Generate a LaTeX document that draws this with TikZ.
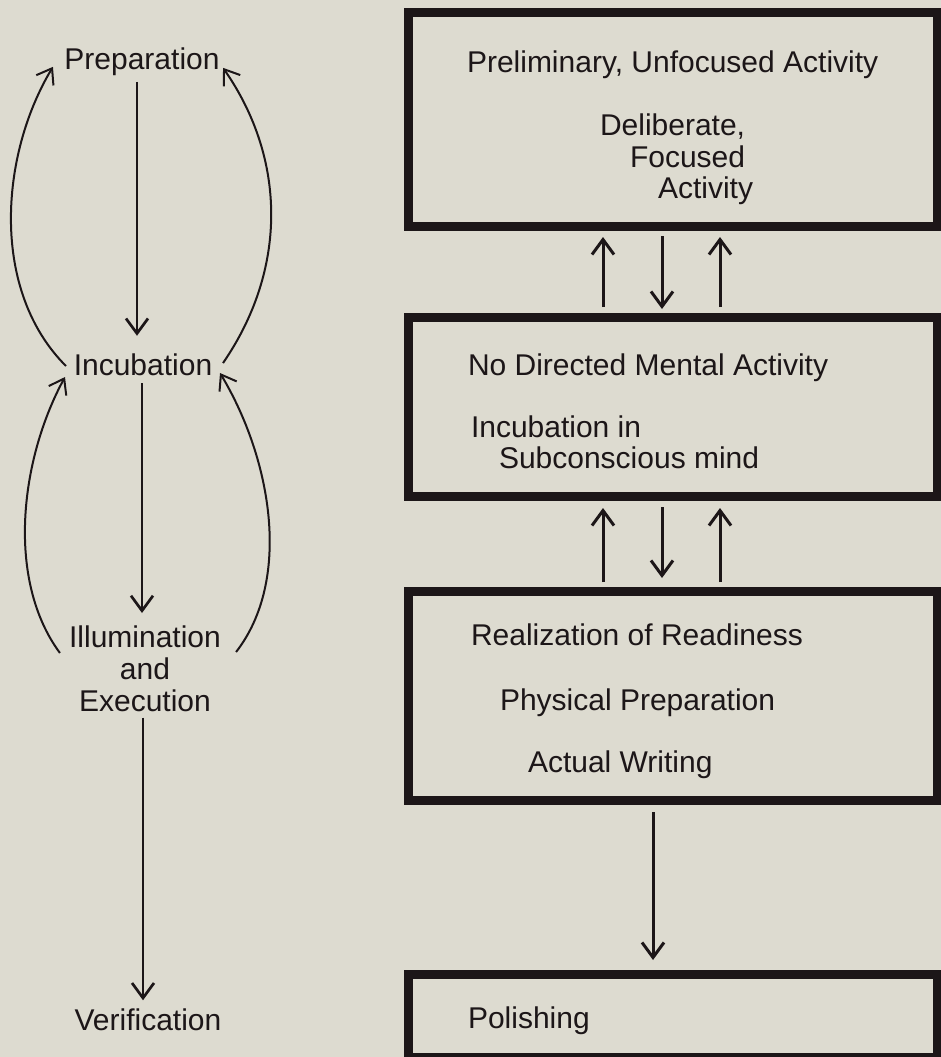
\documentclass[tikz,border=0pt]{standalone}
\usepackage{fontspec}
\setmainfont{Liberation Sans}
\usetikzlibrary{arrows.meta}
\definecolor{paper}{RGB}{221,219,208}
\definecolor{ink}{RGB}{28,22,24}
\begin{document}
\begin{tikzpicture}[x=1pt,y=-1pt,
  lbl/.style={inner sep=0pt, outer sep=0pt, font=\fontsize{30}{32}\selectfont, text=ink},
  boxnode/.style={draw=ink, line width=9pt, minimum width=529pt, inner sep=0pt, outer sep=0pt, anchor=north west},
  arr/.style={draw=ink, line width=3pt, -{Straight Barb[length=15pt,width=22pt]}},
  varr/.style={draw=ink, line width=2.7pt, -{Straight Barb[length=15pt,width=22pt]}},
  arcarr/.style={draw=ink, line width=2pt, -{Straight Barb[length=14pt,width=20pt]}}
]
\useasboundingbox[fill=paper] (0,0) rectangle (941,1057);

% ---------- left column ----------
\node[lbl, anchor=base] (prep) at (142,70) {Preparation};
\node[lbl, anchor=base] (incub) at (143,375) {Incubation};
\node[lbl, anchor=north, align=center] (illum) at (145,625.5) {Illumination\\and\\Execution};
\node[lbl, anchor=base] (verif) at (148,1030) {Verification};

\coordinate (lx1) at (137,0);
\coordinate (lx2) at (142,0);
\coordinate (lx3) at (143,0);

\draw[varr, shorten <=5.7pt, shorten >=17.5pt] (prep.south -| lx1) -- (incub.north -| lx1);
\draw[varr, shorten <=8pt, shorten >=12.5pt] (incub.south -| lx2) -- (illum.north -| lx2);
\draw[varr, shorten <=6pt, shorten >=8pt] (illum.south -| lx3) -- (verif.north -| lx3);

\draw[arcarr] ([shift={(-7.8,1.75)}]incub.west) .. controls (-10,290) and (0,155) .. ([shift={(-11.5,4.6)}]prep.west);
\draw[arcarr] ([shift={(10.8,-1.25)}]incub.east) .. controls (287,270) and (287,160) .. ([shift={(3.5,5.6)}]prep.east);
\draw[arcarr] ([shift={(-9.2,27.5)}]illum.north west) .. controls (6,580) and (20,460) .. ([shift={(-8.8,12.75)}]incub.west);
\draw[arcarr] ([shift={(15.2,26.5)}]illum.north east) .. controls (292,580) and (272,460) .. ([shift={(7.8,8.75)}]incub.east);

% ---------- right column ----------
\node[boxnode, minimum height=213pt] (b1) at (408,13) {};
\node[boxnode, minimum height=179pt] (b2) at (408,317) {};
\node[boxnode, minimum height=209pt] (b3) at (408,591) {};
\node[boxnode, minimum height=83pt] (b4) at (408,974) {};

\node[lbl, anchor=base west] (t1a) at (467,72) {Preliminary, Unfocused Activity};
\node[lbl, anchor=base west] (t1b) at (600,135) {Deliberate,};
\node[lbl, anchor=base west] (t1c) at (630,167) {Focused};
\node[lbl, anchor=base west] (t1d) at (658,198) {Activity};

\node[lbl, anchor=base west] (t2a) at (468,375) {No Directed Mental Activity};
\node[lbl, anchor=base west] (t2b) at (471,437) {Incubation in};
\node[lbl, anchor=base west] (t2c) at (499,468) {Subconscious mind};

\node[lbl, anchor=base west] (t3a) at (471,645) {Realization of Readiness};
\node[lbl, anchor=base west] (t3b) at (500,710) {Physical Preparation};
\node[lbl, anchor=base west] (t3c) at (528,772) {Actual Writing};

\node[lbl, anchor=base west] (t4a) at (468,1028) {Polishing};

\coordinate (rx1) at (603,0);
\coordinate (rx2) at (662,0);
\coordinate (rx3) at (720,0);
\coordinate (rx4) at (653,0);

\draw[arr, shorten <=10pt, shorten >=11pt] (b2.north -| rx1) -- (b1.south -| rx1);
\draw[arr, shorten <=10pt, shorten >=8pt] (b1.south -| rx2) -- (b2.north -| rx2);
\draw[arr, shorten <=10pt, shorten >=11pt] (b2.north -| rx3) -- (b1.south -| rx3);

\draw[arr, shorten <=9pt, shorten >=12pt] (b3.north -| rx1) -- (b2.south -| rx1);
\draw[arr, shorten <=11pt, shorten >=13pt] (b2.south -| rx2) -- (b3.north -| rx2);
\draw[arr, shorten <=9pt, shorten >=12pt] (b3.north -| rx3) -- (b2.south -| rx3);

\draw[arr, shorten <=12pt, shorten >=14pt] (b3.south -| rx4) -- (b4.north -| rx4);
\end{tikzpicture}
\end{document}
